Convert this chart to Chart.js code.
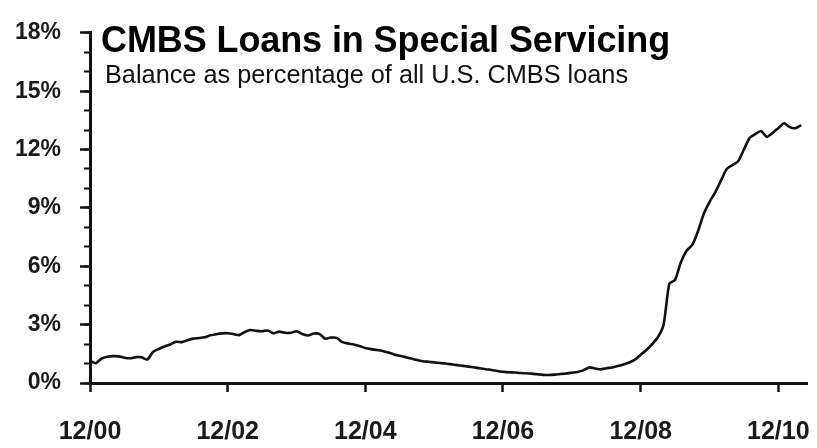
<!DOCTYPE html>
<html>
<head>
<meta charset="utf-8">
<script src="https://cdn.jsdelivr.net/npm/chart.js@4/dist/chart.umd.min.js"></script>
<style>
  html, body { margin: 0; padding: 0; background: #fff; }
  #wrap { position: relative; width: 817px; height: 448px; }
  #c { position: absolute; left: 0; top: 0; }
  .title { position: absolute; left: 101px; top: 22px; font-family: "Liberation Sans", Arial, sans-serif; font-weight: bold; font-size: 36px; line-height: 36px; color: #000; white-space: nowrap; letter-spacing: -0.1px; }
  .subtitle { position: absolute; left: 105px; top: 62px; font-family: "Liberation Sans", Arial, sans-serif; font-size: 25.3px; line-height: 25px; color: #111; white-space: nowrap; }
</style>
</head>
<body>
<div id="wrap">
  <canvas id="c" width="817" height="448"></canvas>
  <div class="title">CMBS Loans in Special Servicing</div>
  <div class="subtitle">Balance as percentage of all U.S. CMBS loans</div>
</div>
<script>
// Monthly categories from 12/00 to 5/11
const startYear = 2000, startMonth = 12, monthCount = 126;
const months = [];
for (let i = 0; i < monthCount; i++) {
  const m = ((startMonth - 1 + i) % 12) + 1;
  const y = startYear + Math.floor((startMonth - 1 + i) / 12);
  months.push(m + '/' + String(y % 100).padStart(2, '0'));
}

// Tick labels shown on the x axis
const xTickLabels = ['12/00', '12/02', '12/04', '12/06', '12/08', '12/10'];

// Y-axis tick values (percent)
const yMajorTicks = [0, 3, 6, 9, 12, 15, 18];

// Special-servicing balance, % of all U.S. CMBS loans
const specialServicing = [
  1.14, 1.02, 1.25, 1.35, 1.38, 1.37, 1.30, 1.27, 1.33, 1.32, 1.20, 1.60,
  1.75, 1.88, 1.98, 2.12, 2.10, 2.20, 2.28, 2.31, 2.35, 2.45, 2.51, 2.55,
  2.56, 2.52, 2.46, 2.62, 2.72, 2.68, 2.66, 2.70, 2.56, 2.64, 2.58, 2.58,
  2.66, 2.52, 2.44, 2.54, 2.52, 2.28, 2.33, 2.32, 2.10, 2.03, 1.98, 1.90,
  1.80, 1.74, 1.70, 1.65, 1.57, 1.47, 1.40, 1.33, 1.26, 1.18, 1.12, 1.09,
  1.06, 1.03, 1.00, 0.96, 0.92, 0.88, 0.84, 0.80, 0.76, 0.71, 0.67, 0.62,
  0.58, 0.55, 0.54, 0.51, 0.50, 0.48, 0.45, 0.42, 0.41, 0.43, 0.46, 0.49,
  0.53, 0.57, 0.65, 0.80, 0.75, 0.70, 0.76, 0.80, 0.87, 0.95, 1.05, 1.20,
  1.45, 1.70, 2.00, 2.35, 3.00, 5.10, 5.30, 6.20, 6.80, 7.10, 7.80, 8.70,
  9.30, 9.80, 10.40, 11.00, 11.20, 11.40, 12.00, 12.60, 12.80, 12.95, 12.65, 12.85,
  13.10, 13.35, 13.15, 13.10, 13.25, null
];

const black = '#111';

new Chart(document.getElementById('c'), {
  type: 'line',
  data: {
    labels: months,
    datasets: [{
      data: specialServicing,
      borderColor: black,
      borderWidth: 2.6,
      pointRadius: 0,
      tension: 0.2,
      fill: false,
      spanGaps: false
    }]
  },
  options: {
    responsive: false,
    animation: false,
    devicePixelRatio: 1,
    layout: { padding: { top: 22, right: 10, bottom: 0, left: 0 } },
    plugins: { legend: { display: false }, tooltip: { enabled: false }, title: { display: false } },
    scales: {
      x: {
        type: 'category',
        offset: false,
        afterBuildTicks: (scale) => {
          scale.ticks = scale.ticks.filter(t => xTickLabels.includes(months[t.value]));
        },
        afterFit: (scale) => { scale.height = 65; scale.paddingLeft = 0; scale.paddingRight = 0; },
        grid: { drawOnChartArea: false, drawTicks: true, tickLength: 9, tickWidth: 2.5, tickColor: black, color: black },
        border: { display: true, color: black, width: 3 },
        ticks: {
          autoSkip: false, maxRotation: 0, padding: 25,
          color: '#1a1a1a',
          font: { family: '"Liberation Sans", Arial, sans-serif', size: 25, weight: 'bold' },
          callback: function (v) { return months[v]; }
        }
      },
      y: {
        min: 0, max: 18,
        afterBuildTicks: (scale) => { scale.ticks = yMajorTicks.map(v => ({ value: v })); },
        afterFit: (scale) => { scale.width = 90; },
        grid: { drawOnChartArea: false, drawTicks: true, tickLength: 10, tickWidth: 2.5, tickColor: black, color: black },
        border: { display: true, color: black, width: 3 },
        ticks: {
          padding: 19,
          color: '#1a1a1a',
          font: { family: '"Liberation Sans", Arial, sans-serif', size: 23, weight: 'bold' },
          callback: (v) => v + '%'
        }
      },
      yMinor: {
        axis: 'y',
        position: { x: 0 },
        min: 0, max: 18,
        ticks: { display: false, stepSize: 1 },
        grid: { drawOnChartArea: false, drawTicks: true, tickLength: 6, tickWidth: 2, tickColor: black, color: black },
        border: { display: false }
      }
    }
  }
});
</script>
</body>
</html>
